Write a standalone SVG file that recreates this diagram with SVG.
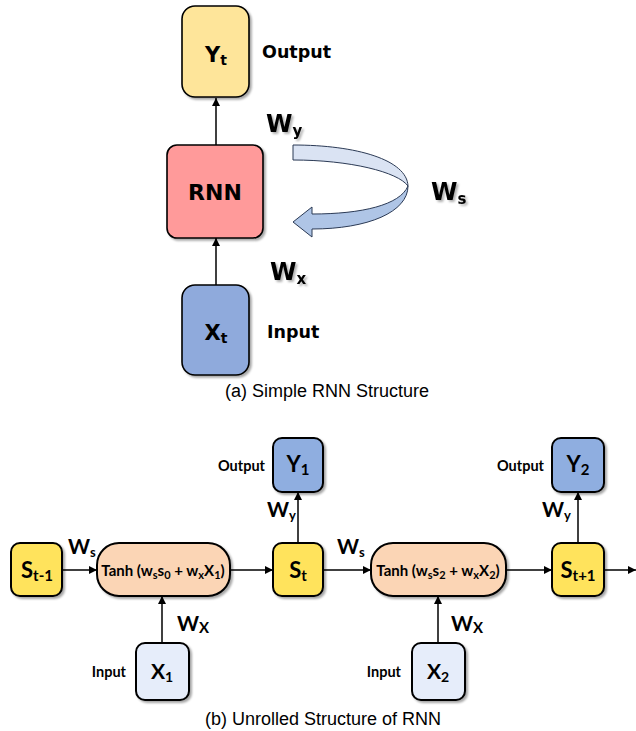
<svg xmlns="http://www.w3.org/2000/svg" width="636" height="731" viewBox="0 0 636 731">
<defs>
<marker id="ah" viewBox="0 0 10 10" refX="10" refY="5" markerWidth="8" markerHeight="8" markerUnits="userSpaceOnUse" orient="auto">
<path d="M0,0 L10,5 L0,10 Z" fill="#000"/>
</marker>
<filter id="sh" x="-20%" y="-20%" width="150%" height="150%">
<feDropShadow dx="2" dy="2" stdDeviation="1.2" flood-color="#000" flood-opacity="0.35"/>
</filter>
<filter id="tsh" x="-20%" y="-20%" width="150%" height="150%">
<feDropShadow dx="2" dy="2" stdDeviation="1" flood-color="#000" flood-opacity="0.3"/>
</filter>
</defs>
<style>
.box{stroke:#000;stroke-width:1.6}
.bx{stroke:#000;stroke-width:2}
.t1{font-family:"DejaVu Sans",Verdana,sans-serif;font-weight:bold;fill:#000}
.t2{font-family:Lato,"Open Sans",sans-serif;font-weight:bold;fill:#000}
.cap{font-family:"Liberation Sans",Arial,sans-serif;font-size:18px;fill:#000}
.ln{stroke:#000;stroke-width:1.5;fill:none;marker-end:url(#ah)}
</style>
<rect width="636" height="731" fill="#fff"/>

<g id="connectors">
<line class="ln" x1="216" y1="145" x2="216" y2="98"/>
<line class="ln" x1="216" y1="285" x2="216" y2="238"/>
<line class="ln" x1="62" y1="570" x2="97" y2="570"/>
<line class="ln" x1="230" y1="570" x2="273" y2="570"/>
<line class="ln" x1="298" y1="543" x2="298" y2="492"/>
<line class="ln" x1="323" y1="570" x2="371" y2="570"/>
<line class="ln" x1="506" y1="570" x2="552" y2="570"/>
<line class="ln" x1="578" y1="543" x2="578" y2="492"/>
<line class="ln" x1="604" y1="570" x2="636" y2="570"/>
<line class="ln" x1="162" y1="643" x2="162" y2="596"/>
<line class="ln" x1="438" y1="643" x2="438" y2="596"/>
</g>

<g id="recur">
<path d="M293,145 C357,145 407,160 408,186 C398,172 350,160 293,160 Z" fill="#DAE3F3" stroke="#2B3A55" stroke-width="1"/>
<path d="M408,186 C408,212 368,229 312,229 L312,237 L293,222 L312,207 L312,214 C362,214 400,205 408,186 Z" fill="#AFC5E6" stroke="#2B3A55" stroke-width="1"/>
</g>

<g id="Yt">
<rect class="box" x="182" y="6" width="67" height="91" rx="13" fill="#FEE59A" filter="url(#sh)"/>
<text class="t1" x="216" y="62" text-anchor="middle" font-size="21">Y<tspan font-size="14" dy="3">t</tspan></text>
</g>
<text class="t1" x="262" y="58" font-size="17.5">Output</text>
<text class="t1" x="266" y="132" font-size="24" filter="url(#tsh)">W<tspan font-size="15" dy="4">y</tspan></text>

<g id="RNN">
<rect class="box" x="167" y="145" width="96" height="93" rx="10" fill="#FF9A9A" filter="url(#sh)"/>
<text class="t1" x="215" y="200" text-anchor="middle" font-size="22">RNN</text>
</g>
<text class="t1" x="431" y="200" font-size="24" filter="url(#tsh)">W<tspan font-size="15" dy="4">s</tspan></text>
<text class="t1" x="270" y="280" font-size="24" filter="url(#tsh)">W<tspan font-size="15" dy="4">x</tspan></text>

<g id="Xt">
<rect class="box" x="182" y="285" width="67" height="90" rx="13" fill="#8FAADC" filter="url(#sh)"/>
<text class="t1" x="216" y="340" text-anchor="middle" font-size="21">X<tspan font-size="14" dy="3">t</tspan></text>
</g>
<text class="t1" x="267" y="338" font-size="17.5">Input</text>
<text class="cap" x="327" y="397" text-anchor="middle">(a) Simple RNN Structure</text>

<g id="Stm1">
<rect class="bx" x="11" y="543" width="51" height="53" rx="9" fill="#FFE35C" filter="url(#sh)"/>
<text class="t2" x="37" y="578" text-anchor="middle" font-size="22">S<tspan font-size="15" dy="3">t-1</tspan></text>
</g>
<text class="t2" x="68" y="554" font-size="21">W<tspan font-size="13" dy="3">s</tspan></text>

<g id="Tanh1">
<rect class="bx" x="97" y="543" width="133" height="53" rx="22" fill="#FBD5B5" filter="url(#sh)"/>
<text class="t2" x="163" y="576" text-anchor="middle" font-size="15">Tanh (w<tspan font-size="11" dy="3">s</tspan><tspan dy="-3">s</tspan><tspan font-size="11" dy="3">0</tspan><tspan dy="-3"> + w</tspan><tspan font-size="11" dy="3">x</tspan><tspan dy="-3">X</tspan><tspan font-size="11" dy="3">1</tspan><tspan dy="-3">)</tspan></text>
</g>

<g id="St">
<rect class="bx" x="273" y="543" width="50" height="53" rx="9" fill="#FFE35C" filter="url(#sh)"/>
<text class="t2" x="298" y="578" text-anchor="middle" font-size="22">S<tspan font-size="15" dy="3">t</tspan></text>
</g>

<g id="Y1">
<rect class="bx" x="273" y="438" width="50" height="54" rx="9" fill="#8FAEE0" filter="url(#sh)"/>
<text class="t2" x="298" y="472" text-anchor="middle" font-size="22">Y<tspan font-size="15" dy="3">1</tspan></text>
</g>
<text class="t2" x="265" y="471" text-anchor="end" font-size="14.5">Output</text>
<text class="t2" x="267" y="517" font-size="21">W<tspan font-size="13" dy="3">y</tspan></text>
<text class="t2" x="337" y="554" font-size="21">W<tspan font-size="13" dy="3">s</tspan></text>

<g id="Tanh2">
<rect class="bx" x="371" y="543" width="135" height="53" rx="22" fill="#FBD5B5" filter="url(#sh)"/>
<text class="t2" x="438" y="576" text-anchor="middle" font-size="15">Tanh (w<tspan font-size="11" dy="3">s</tspan><tspan dy="-3">s</tspan><tspan font-size="11" dy="3">2</tspan><tspan dy="-3"> + w</tspan><tspan font-size="11" dy="3">x</tspan><tspan dy="-3">X</tspan><tspan font-size="11" dy="3">2</tspan><tspan dy="-3">)</tspan></text>
</g>

<g id="St1">
<rect class="bx" x="552" y="543" width="52" height="53" rx="9" fill="#FFE35C" filter="url(#sh)"/>
<text class="t2" x="578" y="578" text-anchor="middle" font-size="22">S<tspan font-size="15" dy="3">t+1</tspan></text>
</g>

<g id="Y2">
<rect class="bx" x="552" y="438" width="52" height="54" rx="9" fill="#8FAEE0" filter="url(#sh)"/>
<text class="t2" x="578" y="472" text-anchor="middle" font-size="22">Y<tspan font-size="15" dy="3">2</tspan></text>
</g>
<text class="t2" x="544" y="471" text-anchor="end" font-size="14.5">Output</text>
<text class="t2" x="542" y="517" font-size="21">W<tspan font-size="13" dy="3">y</tspan></text>

<g id="X1">
<rect class="bx" x="136" y="643" width="53" height="57" rx="9" fill="#E6EDFA" filter="url(#sh)"/>
<text class="t2" x="162" y="679" text-anchor="middle" font-size="21">X<tspan font-size="14" dy="3">1</tspan></text>
</g>
<text class="t2" x="126" y="677" text-anchor="end" font-size="14.5">Input</text>
<text class="t2" x="177" y="631" font-size="21">W<tspan font-size="15" dy="2">X</tspan></text>

<g id="X2">
<rect class="bx" x="412" y="643" width="53" height="57" rx="9" fill="#E6EDFA" filter="url(#sh)"/>
<text class="t2" x="438" y="679" text-anchor="middle" font-size="21">X<tspan font-size="14" dy="3">2</tspan></text>
</g>
<text class="t2" x="401" y="677" text-anchor="end" font-size="14.5">Input</text>
<text class="t2" x="451" y="631" font-size="21">W<tspan font-size="15" dy="2">X</tspan></text>

<text class="cap" x="323" y="725" text-anchor="middle">(b) Unrolled Structure of RNN</text>
</svg>
